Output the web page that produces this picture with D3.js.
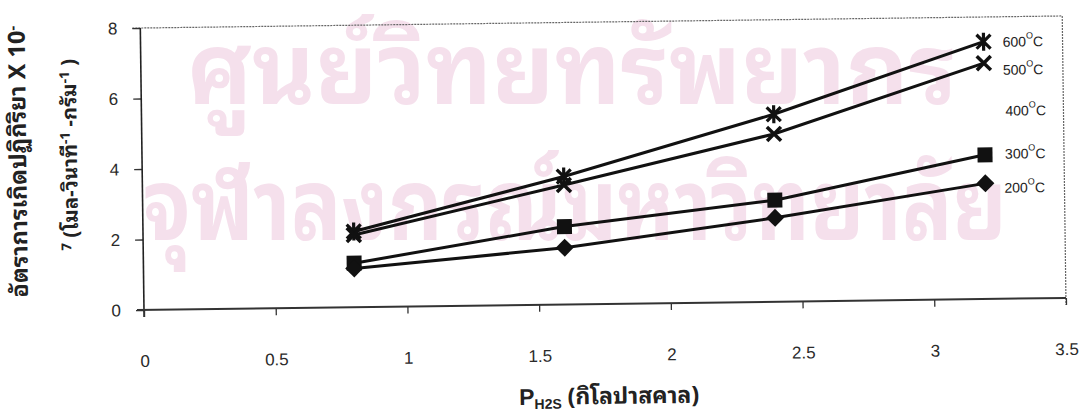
<!DOCTYPE html>
<html>
<head>
<meta charset="utf-8">
<script src="https://cdn.jsdelivr.net/npm/d3@7"></script>
<style>
  body { margin: 0; background: #fff; }
  svg { display: block; }
</style>
</head>
<body>
<svg id="chart" width="1084" height="410"></svg>
<script>
// H2S partial pressure (kPa) at which rates were measured
const pressures = [0.8, 1.6, 2.4, 3.2];
// reaction rate x 10^-7 (mol s^-1 g^-1) by temperature
const rate600 = [2.15, 3.63, 5.32, 7.30];
const rate500 = [2.05, 3.39, 4.76, 6.69];
const rate300 = [1.25, 2.21, 2.88, 4.09];
const rate200 = [1.10, 1.61, 2.38, 3.28];
const tempLabels = ["600", "500", "400", "300", "200"];
const xTicks = [0, 0.5, 1, 1.5, 2, 2.5, 3, 3.5];
const yTicks = [0, 2, 4, 6, 8];

const thai = "'Noto Sans Thai Looped', 'Noto Serif Thai', 'Noto Sans Thai', Loma, Garuda, Tahoma, 'Noto Sans', sans-serif";
const latin = "'Liberation Sans', Arial, sans-serif";

const svg = d3.select("#chart");

// faint institutional watermark behind the chart
const wm = svg.append("g")
  .attr("fill", "#f5e0ec")
  .attr("font-family", thai)
  .attr("font-weight", "bold")
  .attr("text-anchor", "middle");
wm.append("text")
  .attr("x", 572).attr("y", 104)
  .attr("font-size", 100)
  .attr("textLength", 770).attr("lengthAdjust", "spacingAndGlyphs")
  .text("ศูนย์วิทยทรัพยากร");
wm.append("text")
  .attr("x", 575).attr("y", 240)
  .attr("font-size", 100)
  .attr("textLength", 864).attr("lengthAdjust", "spacingAndGlyphs")
  .text("จุฬาลงกรณ์มหาวิทยาลัย");

// whole figure sits slightly tilted
const g = svg.append("g").attr("transform", "rotate(-0.75, 144, 310)");

const x = d3.scaleLinear().domain([0, 3.5]).range([144, 1066]);
const y = d3.scaleLinear().domain([0, 8]).range([310, 28]);

// frame: dotted top and right edges
g.append("line")
  .attr("x1", x(0) - 8).attr("x2", x(3.5)).attr("y1", y(8)).attr("y2", y(8))
  .attr("stroke", "#666").attr("stroke-width", 1.2).attr("stroke-dasharray", "2,1");
g.append("line")
  .attr("x1", x(3.5)).attr("x2", x(3.5)).attr("y1", y(8)).attr("y2", y(0) + 7)
  .attr("stroke", "#666").attr("stroke-width", 1.2).attr("stroke-dasharray", "2,1");

// y axis
const yAxis = g.append("g")
  .attr("transform", `translate(${x(0)},0)`)
  .call(d3.axisLeft(y).tickValues(yTicks).tickSize(8).tickSizeOuter(0).tickPadding(15));
yAxis.select(".domain").remove();
g.append("line")
  .attr("x1", x(0)).attr("x2", x(0)).attr("y1", y(8)).attr("y2", y(0) + 7)
  .attr("stroke", "#222").attr("stroke-width", 1.6);

// x axis
const xAxis = g.append("g")
  .attr("transform", `translate(0,${y(0)})`)
  .call(d3.axisBottom(x).tickValues(xTicks).tickFormat(d3.format("")).tickSize(7).tickSizeOuter(0).tickPadding(38));
xAxis.select(".domain").remove();
g.append("line")
  .attr("x1", x(0) - 7).attr("x2", x(3.5)).attr("y1", y(0)).attr("y2", y(0))
  .attr("stroke", "#333").attr("stroke-width", 2);

[yAxis, xAxis].forEach(a => {
  a.attr("font-size", null).attr("font-family", null);
  a.selectAll(".tick line").attr("stroke", "#333").attr("stroke-width", 1.3);
  a.selectAll(".tick text")
    .style("font-family", latin).style("font-size", "17px").style("fill", "#2a2a2a");
});

// series
const series = [
  { name: "600", values: rate600, marker: "asterisk" },
  { name: "500", values: rate500, marker: "cross" },
  { name: "300", values: rate300, marker: "square" },
  { name: "200", values: rate200, marker: "diamond" }
];

const line = d3.line().x((d, i) => x(pressures[i])).y(d => y(d));

g.selectAll(".series")
  .data(series)
  .join("path")
  .attr("class", "series")
  .attr("d", d => line(d.values))
  .attr("fill", "none")
  .attr("stroke", "#111")
  .attr("stroke-width", 3);

function drawMarker(sel, kind) {
  const ink = "#111";
  if (kind === "square") {
    sel.append("rect").attr("x", -7.5).attr("y", -7.5).attr("width", 15).attr("height", 15).attr("fill", ink);
  } else if (kind === "diamond") {
    sel.append("path").attr("d", "M0,-9L9,0L0,9L-9,0Z").attr("fill", ink);
  } else if (kind === "cross") {
    sel.append("path").attr("d", "M-7,-7L7,7M-7,7L7,-7")
      .attr("stroke", ink).attr("stroke-width", 3.5).attr("fill", "none");
  } else if (kind === "asterisk") {
    sel.append("path").attr("d", "M-7,-7L7,7M-7,7L7,-7M0,-9L0,9")
      .attr("stroke", ink).attr("stroke-width", 3.2).attr("fill", "none");
  }
}

series.forEach(s => {
  s.values.forEach((v, i) => {
    const m = g.append("g").attr("transform", `translate(${x(pressures[i])},${y(v)})`);
    drawMarker(m, s.marker);
  });
});

// temperature labels at the right edge: number, raised degree ring, then C
const labelPos = { "600": [1006, 58], "500": [1006, 86], "400": [1008, 127], "300": [1007, 170], "200": [1006, 204] };
tempLabels.forEach(t => {
  const [lx, ly] = labelPos[t];
  const txt = g.append("text")
    .attr("x", lx).attr("y", ly)
    .attr("font-family", latin).attr("font-size", 14).attr("fill", "#222");
  txt.append("tspan").text(t);
  txt.append("tspan").attr("font-size", 9).attr("dy", -8).text("O");
  txt.append("tspan").attr("dy", 8).text("C");
});

// y axis title, two lines, reading upward
const yt1 = g.append("text")
  .attr("transform", "translate(20,160) rotate(-90)")
  .attr("text-anchor", "middle")
  .attr("dy", "0.35em")
  .attr("font-family", thai).attr("font-weight", "bold").attr("font-size", 16).attr("fill", "#222");
yt1.append("tspan").text("อัตราการเกิดปฏิกิริยา X 10");
yt1.append("tspan").attr("font-size", 10).attr("dy", -7).text("-");

const yt2 = g.append("text")
  .attr("transform", "translate(79,154) rotate(-90)")
  .attr("text-anchor", "middle")
  .attr("dy", "0.35em")
  .attr("font-family", thai).attr("font-weight", "bold").attr("font-size", 15).attr("fill", "#222");
yt2.append("tspan").attr("font-size", 10).attr("dy", -7).text("7");
yt2.append("tspan").attr("dy", 7).text(" (โมล-วินาที");
yt2.append("tspan").attr("font-size", 10).attr("dy", -7).text("-1");
yt2.append("tspan").attr("dy", 7).text(" -กรัม");
yt2.append("tspan").attr("font-size", 10).attr("dy", -7).text("-1");
yt2.append("tspan").attr("dy", 7).text(" )");

// x axis title
const xt = g.append("text")
  .attr("x", 518).attr("y", 410)
  .attr("font-family", thai).attr("font-weight", "bold").attr("font-size", 18).attr("fill", "#222");
xt.append("tspan").attr("font-family", latin).text("P");
xt.append("tspan").attr("font-family", latin).attr("font-size", 11).attr("dy", 4).text("H2S");
xt.append("tspan").attr("dy", -4).text(" (กิโลปาสคาล)");

// fit title lengths to their intended spans
function fit(sel, target) {
  const len = sel.node().getComputedTextLength();
  if (len > 0) {
    const k = target / len;
    sel.attr("font-size", +sel.attr("font-size") * k);
    sel.selectAll("tspan").each(function () {
      const t = d3.select(this);
      if (t.attr("font-size")) t.attr("font-size", +t.attr("font-size") * k);
    });
  }
}
fit(yt1, 272);
fit(yt2, 192);
fit(xt, 180);
</script>
</body>
</html>
